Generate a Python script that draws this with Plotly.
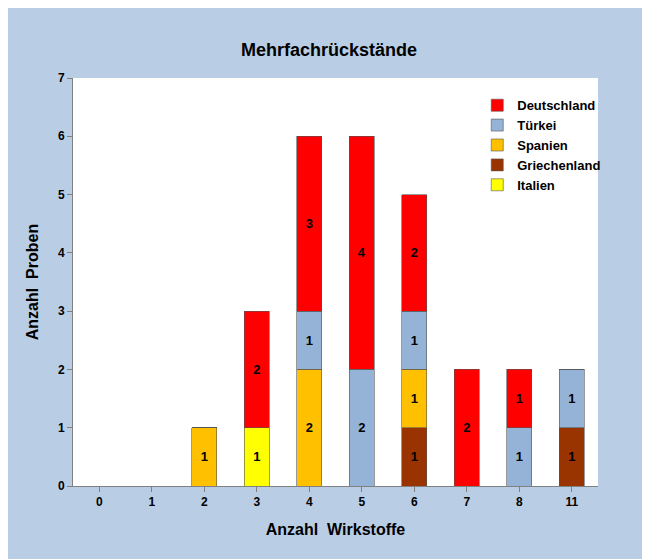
import plotly.graph_objects as go

categories = ["0", "1", "2", "3", "4", "5", "6", "7", "8", "11"]
italien = [0, 0, 0, 1, 0, 0, 0, 0, 0, 0]
griechenland = [0, 0, 0, 0, 0, 0, 1, 0, 0, 1]
spanien = [0, 0, 1, 0, 2, 0, 1, 0, 0, 0]
tuerkei = [0, 0, 0, 0, 1, 2, 1, 0, 1, 1]
deutschland = [0, 0, 0, 2, 3, 4, 2, 2, 1, 0]

series = [
    ("Italien", italien, "#FFFF00"),
    ("Griechenland", griechenland, "#993300"),
    ("Spanien", spanien, "#FFC000"),
    ("Türkei", tuerkei, "#95B3D7"),
    ("Deutschland", deutschland, "#FF0000"),
]

fig = go.Figure()
for name, vals, color in series:
    fig.add_trace(go.Bar(
        x=categories, y=vals, name=name,
        marker=dict(color=color, line=dict(color="#555555", width=0.6)),
        text=[str(v) if v else "" for v in vals],
        textposition="inside", insidetextanchor="middle",
        textfont=dict(color="black", size=13, family="Liberation Sans, Arial", weight="bold"),
    ))

fig.update_layout(
    barmode="stack", bargap=0.52,
    width=642, height=551,
    paper_bgcolor="#B9CDE5", plot_bgcolor="white",
    margin=dict(l=65, r=52, t=70, b=73),
    font=dict(family="Liberation Sans, Arial", color="black", size=12),
    title=dict(text="<b>Mehrfachrückstände</b>", x=0.5, xanchor="center", y=0.935,
               font=dict(size=18)),
    legend=dict(x=0.77, y=0.97, xanchor="left", yanchor="top", traceorder="reversed",
                bgcolor="rgba(0,0,0,0)", font=dict(size=13, weight="bold"),
                itemwidth=30),
    showlegend=True,
    uniformtext=dict(minsize=10, mode="show"),
)
fig.update_xaxes(title=dict(text="<b>Anzahl  Wirkstoffe</b>", font=dict(size=16)),
                 tickfont=dict(size=12, weight="bold"),
                 showline=True, linecolor="#808080", ticks="outside", tickcolor="#808080")
fig.update_yaxes(title=dict(text="<b>Anzahl  Proben</b>", font=dict(size=16)),
                 range=[0, 7], dtick=1, showgrid=False,
                 tickfont=dict(size=12, weight="bold"),
                 showline=True, linecolor="#808080", ticks="outside", tickcolor="#808080")

fig.write_html("out.html")
